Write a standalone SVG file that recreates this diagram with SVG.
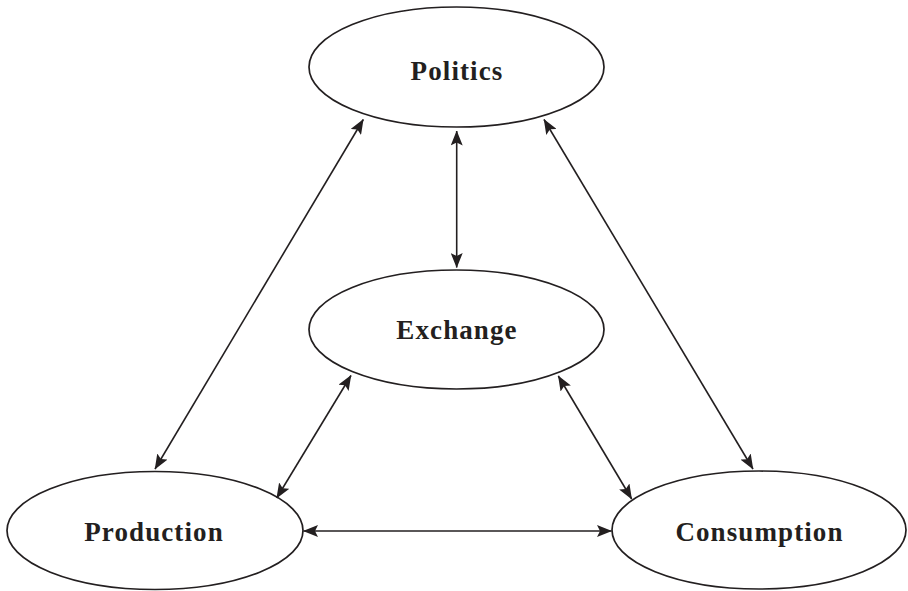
<svg xmlns="http://www.w3.org/2000/svg" width="908" height="591" viewBox="0 0 908 591">
<style>
.node ellipse{fill:#fff;stroke:#231f20;stroke-width:1.7}
.node text{font-family:"Liberation Serif","DejaVu Serif",serif;font-weight:bold;font-size:27px;letter-spacing:1.1px;fill:#231f20;text-anchor:middle}
.conn line{stroke:#231f20;stroke-width:1.6;marker-start:url(#ah);marker-end:url(#ah)}
</style>
<defs>
<marker id="ah" markerUnits="userSpaceOnUse" markerWidth="15" markerHeight="12" refX="14.5" refY="6" orient="auto-start-reverse" viewBox="0 0 15 12">
<path d="M0,0 L15,6 L0,12 L3,6 z" fill="#231f20"/>
</marker>
</defs>
<rect width="908" height="591" fill="#fff"/>
<g id="politics" class="node"><ellipse cx="456.5" cy="67" rx="147.5" ry="60"/><text x="457" y="80">Politics</text></g>
<g id="exchange" class="node"><ellipse cx="456.5" cy="329.5" rx="147.5" ry="59.5"/><text x="457" y="339">Exchange</text></g>
<g id="production" class="node"><ellipse cx="155" cy="530.5" rx="148" ry="59"/><text x="154" y="541">Production</text></g>
<g id="consumption" class="node"><ellipse cx="759" cy="530" rx="147" ry="59"/><text x="759.5" y="541">Consumption</text></g>
<g id="connectors" class="conn">
<line x1="456.7" y1="131" x2="456.7" y2="267.5"/>
<line x1="363.3" y1="119.5" x2="155" y2="469"/>
<line x1="544" y1="119.5" x2="753" y2="469"/>
<line x1="351" y1="375.5" x2="276.7" y2="498"/>
<line x1="558.3" y1="376" x2="631.7" y2="499"/>
<line x1="303.5" y1="531" x2="611.5" y2="531"/>
</g>
</svg>
